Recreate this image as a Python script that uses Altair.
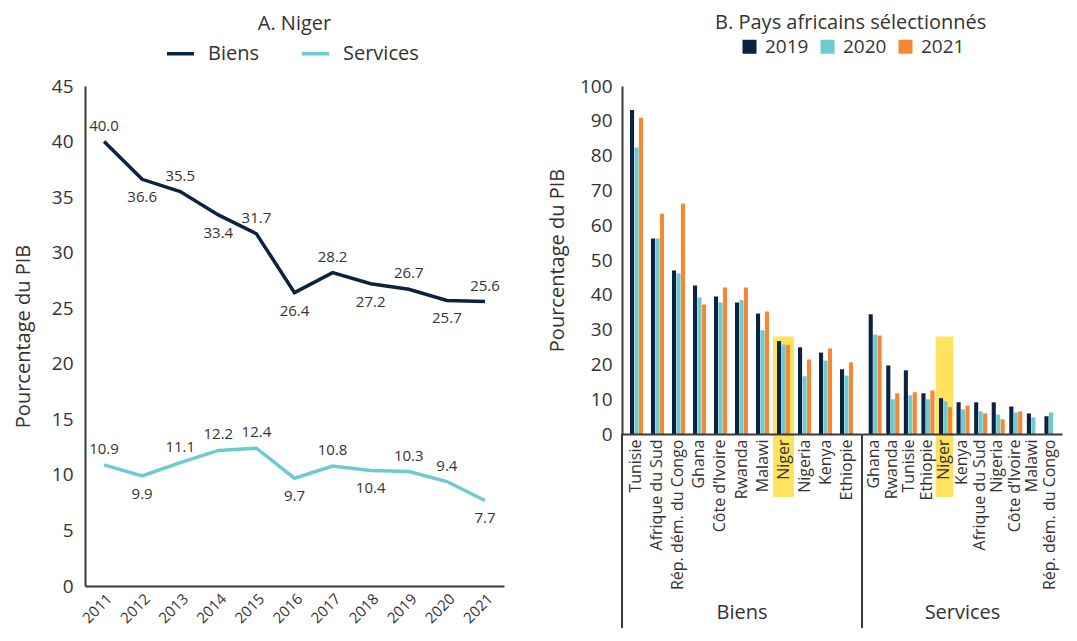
import altair as alt
import pandas as pd

# ---------- Data: panel A (Niger) ----------
annees = ["2011", "2012", "2013", "2014", "2015", "2016", "2017", "2018", "2019", "2020", "2021"]
biens_niger = [40.0, 36.6, 35.5, 33.4, 31.7, 26.4, 28.2, 27.2, 26.7, 25.7, 25.6]
services_niger = [10.9, 9.9, 11.1, 12.2, 12.4, 9.7, 10.8, 10.4, 10.3, 9.4, 7.7]
pos_biens = ["haut", "bas", "haut", "bas", "haut", "bas", "haut", "bas", "haut", "bas", "haut"]
pos_services = ["haut", "bas", "haut", "haut", "haut", "bas", "haut", "bas", "haut", "haut", "bas"]

# ---------- Data: panel B (selected African countries) ----------
annees_b = ["2019", "2020", "2021"]
pays_biens = ["Tunisie", "Afrique du Sud", "Rép. dém. du Congo", "Ghana", "Côte d’Ivoire",
              "Rwanda", "Malawi", "Niger", "Nigeria", "Kenya", "Ethiopie"]
biens_2019 = [93.1, 56.2, 47.0, 42.7, 39.5, 37.8, 34.6, 26.7, 24.9, 23.4, 18.6]
biens_2020 = [82.3, 56.2, 46.1, 39.2, 37.8, 38.4, 29.8, 25.7, 16.6, 21.1, 16.8]
biens_2021 = [90.9, 63.3, 66.2, 37.2, 42.1, 42.1, 35.2, 25.6, 21.4, 24.6, 20.6]

pays_services = ["Ghana", "Rwanda", "Tunisie", "Ethiopie", "Niger", "Kenya", "Afrique du Sud",
                 "Nigeria", "Côte d’Ivoire", "Malawi", "Rép. dém. du Congo"]
services_2019 = [34.4, 19.7, 18.3, 11.7, 10.3, 9.1, 9.1, 9.1, 7.9, 5.9, 5.1]
services_2020 = [28.6, 10.0, 11.1, 10.0, 9.4, 7.1, 6.5, 5.6, 6.2, 4.8, 6.2]
services_2021 = [28.3, 11.7, 12.0, 12.5, 7.7, 8.2, 5.9, 4.2, 6.5, None, None]

niger_surligne = 28.0

NAVY = "#0b2341"
TEAL = "#6ccbd0"
ORANGE = "#f58735"
YELLOW = "#ffe35f"
AXIS = "#3a3a3a"
TXT = "#333333"
FONT = "Open Sans"

# ---------- Panel A ----------
rows = []
for a, v, p in zip(annees, biens_niger, pos_biens):
    rows.append({"annee": a, "serie": "Biens", "valeur": v, "pos": p})
for a, v, p in zip(annees, services_niger, pos_services):
    rows.append({"annee": a, "serie": "Services", "valeur": v, "pos": p})
df_a = pd.DataFrame(rows)

W_A, H_A = 419, 500

base_a = alt.Chart(df_a).encode(
    x=alt.X("annee:O", scale=alt.Scale(type="point", padding=0.5),
            axis=alt.Axis(title=None, labelAngle=315, labelFontSize=15, ticks=False,
                          labelPadding=5, domainColor=AXIS, domainWidth=2, labelColor=TXT)),
    y=alt.Y("valeur:Q", scale=alt.Scale(domain=[0, 45], nice=False),
            axis=alt.Axis(title="Pourcentage du PIB", values=list(range(0, 46, 5)), grid=False,
                          ticks=False, labelFontSize=19, labelPadding=12, titleFontSize=20,
                          titleFontWeight="normal", titlePadding=18, domainColor=AXIS,
                          domainWidth=2, labelColor=TXT, titleColor=TXT)),
)

lines_a = base_a.mark_line(strokeWidth=3.5).encode(
    color=alt.Color("serie:N", scale=alt.Scale(domain=["Biens", "Services"], range=[NAVY, TEAL]),
                    legend=alt.Legend(title=None, orient="none", legendX=80, legendY=-48,
                                      direction="horizontal", symbolType="stroke",
                                      symbolStrokeWidth=3.5, symbolSize=729, labelFontSize=20,
                                      labelColor=TXT, columnPadding=36, labelOffset=12))
)
txt_haut = base_a.transform_filter(alt.datum.pos == "haut").mark_text(
    dy=-16, fontSize=15, color=TXT).encode(text=alt.Text("valeur:Q", format=".1f"))
txt_bas = base_a.transform_filter(alt.datum.pos == "bas").mark_text(
    dy=18, fontSize=15, color=TXT).encode(text=alt.Text("valeur:Q", format=".1f"))

panel_a = alt.layer(lines_a, txt_haut, txt_bas).properties(
    width=W_A, height=H_A,
    title=alt.TitleParams("A. Niger", fontSize=20, fontWeight="normal", color=TXT,
                          anchor="middle", offset=4))

# ---------- Panel B ----------
H_B = 348

leg_b = alt.Legend(title=None, orient="none", legendX=118, legendY=-49,
                   direction="horizontal", symbolType="square", symbolSize=196,
                   labelFontSize=19, labelColor=TXT, columnPadding=9, labelOffset=6,
                   symbolStrokeWidth=0)


def make_df(pays, v19, v20, v21):
    out = []
    for i, p in enumerate(pays):
        for an, vals in zip(annees_b, [v19, v20, v21]):
            if vals[i] is not None:
                out.append({"pays": p, "annee": an, "valeur": vals[i]})
    return pd.DataFrame(out)


def panel(groupe, pays, v19, v20, v21, first, width):
    df = make_df(pays, v19, v20, v21)
    xenc = alt.X("pays:N", scale=alt.Scale(domain=pays, paddingInner=0.38, paddingOuter=0.38),
                 axis=alt.Axis(title=groupe, labelAngle=270, labelFontSize=16, ticks=False,
                               labelPadding=5, titleFontSize=20, titleFontWeight="normal",
                               titleY=168, titleBaseline="top", domainColor=AXIS,
                               domainWidth=2, labelColor=TXT, titleColor=TXT, zindex=1))
    if first:
        yaxis = alt.Axis(title="Pourcentage du PIB", values=list(range(0, 101, 10)), grid=False,
                         ticks=False, labelFontSize=19, labelPadding=10, titleFontSize=20,
                         titleFontWeight="normal", titlePadding=12, domainColor=AXIS,
                         domainWidth=2, labelColor=TXT, titleColor=TXT)
    else:
        yaxis = None
    yscale = alt.Scale(domain=[0, 100], nice=False)

    hl = alt.Chart(pd.DataFrame({"pays": ["Niger"], "haut": [niger_surligne]})).mark_rect(
        color=YELLOW, width=alt.RelativeBandSize(1.62)).encode(
        x=xenc, y=alt.Y("haut:Q", scale=yscale, axis=yaxis), y2=alt.value(H_B + 63))

    bars = alt.Chart(df).mark_bar().encode(
        x=xenc,
        xOffset=alt.XOffset("annee:N", scale=alt.Scale(domain=annees_b, paddingInner=0.08)),
        y=alt.Y("valeur:Q", scale=yscale, axis=yaxis),
        color=alt.Color("annee:N", scale=alt.Scale(domain=annees_b, range=[NAVY, TEAL, ORANGE]),
                        legend=leg_b),
    )
    sep = alt.Chart(pd.DataFrame({"k": [0]})).mark_rule(color=AXIS, strokeWidth=2).encode(
        x=alt.value(0), y=alt.value(H_B), y2=alt.value(H_B + 194))

    return alt.layer(hl, bars, sep).properties(width=width, height=H_B)


panel_biens = panel("Biens", pays_biens, biens_2019, biens_2020, biens_2021, True, 239)
panel_services = panel("Services", pays_services, services_2019, services_2020, services_2021,
                       False, 200)

panel_b = alt.hconcat(panel_biens, panel_services, spacing=0).resolve_scale(
    x="independent").properties(
    title=alt.TitleParams("B. Pays africains sélectionnés", fontSize=20,
                          fontWeight="normal", color=TXT, anchor="middle", offset=4, dx=46))

chart = alt.hconcat(panel_a, panel_b, spacing=43).resolve_scale(
    color="independent").resolve_legend(color="independent").configure(
    font=FONT).configure_view(stroke=None)

chart.save("out.html", embed_options={"renderer": "svg", "actions": False})
